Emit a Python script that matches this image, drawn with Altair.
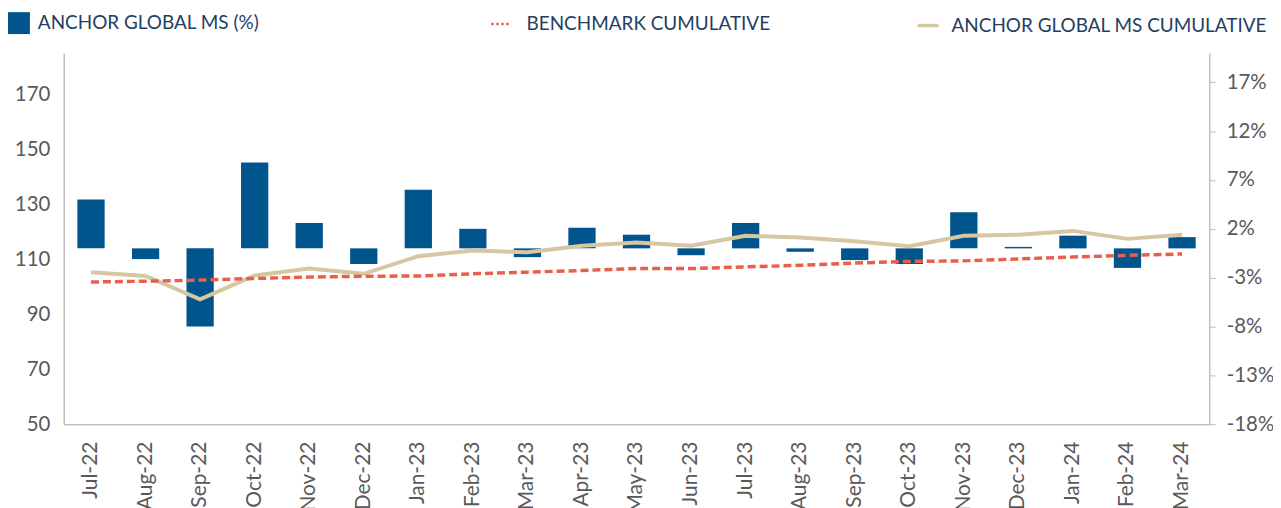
import altair as alt
import pandas as pd

months = ["Jul-22", "Aug-22", "Sep-22", "Oct-22", "Nov-22", "Dec-22", "Jan-23",
          "Feb-23", "Mar-23", "Apr-23", "May-23", "Jun-23", "Jul-23", "Aug-23",
          "Sep-23", "Oct-23", "Nov-23", "Dec-23", "Jan-24", "Feb-24", "Mar-24"]
monthly_pct = [5.0, -1.1, -8.0, 8.8, 2.6, -1.6, 6.0, 2.0, -0.9, 2.1, 1.4, -0.7,
               2.6, -0.35, -1.2, -1.6, 3.7, 0.15, 1.3, -2.0, 1.15]
anchor_cum = [105.3, 103.9, 95.4, 104.1, 106.6, 104.7, 111.1, 113.2, 112.5, 114.9,
              116.1, 114.9, 118.5, 117.9, 116.5, 114.7, 118.5, 118.9, 120.3, 117.4, 118.9]
bench_cum = [101.7, 102.0, 102.4, 103.0, 103.5, 103.8, 103.9, 104.7, 105.3, 105.9,
             106.6, 106.6, 107.2, 107.8, 108.6, 109.2, 109.4, 110.1, 110.8, 111.4, 111.9]

left_ticks = [50, 70, 90, 110, 130, 150, 170]
right_ticks = [-18, -13, -8, -3, 2, 7, 12, 17]

S_BAR = "ANCHOR GLOBAL MS (%)"
S_BENCH = "BENCHMARK CUMULATIVE"
S_ANCHOR = "ANCHOR GLOBAL MS CUMULATIVE"

BAR_C = "#00558C"
BENCH_C = "#E8604A"
ANCHOR_C = "#D6C7A2"
TXT = "#595959"
LEG_TXT = "#24405F"
AX = "#BFBFBF"
FONT = "Lato"

df = pd.DataFrame({
    "month": months,
    "monthly": monthly_pct,
    "anchor": anchor_cum,
    "bench": bench_cum,
    "s_bar": S_BAR,
    "s_bench": S_BENCH,
    "s_anchor": S_ANCHOR,
})

x_axis = alt.Axis(title=None, labelAngle=-90, labelFont=FONT, labelFontSize=21,
                  labelColor=TXT, ticks=False, domainColor=AX, domainWidth=1.5,
                  labelPadding=17)
x_scale = alt.Scale(paddingInner=0.5, paddingOuter=0.25)

left_axis = alt.Axis(title=None, orient="left", values=left_ticks, labelFont=FONT,
                     labelFontSize=20.5, labelColor=TXT, ticks=False, domainColor=AX,
                     domainWidth=1.5, labelPadding=14, grid=False)
left_scale = alt.Scale(domain=[50, 185], nice=False, zero=False)

leg_common = dict(orient="none", title=None, labelFont=FONT, labelFontSize=19,
                  labelColor=LEG_TXT, padding=0, labelLimit=500)

bars = alt.Chart(df).mark_bar(color=BAR_C).encode(
    x=alt.X("month:N", sort=months, scale=x_scale, axis=x_axis),
    y=alt.Y("monthly:Q", scale=alt.Scale(domain=[-18, 20], nice=False, zero=True),
            axis=alt.Axis(title=None, orient="right", values=right_ticks,
                          labelExpr="datum.value + '%'", labelFont=FONT, labelFontSize=20.5,
                          labelColor=TXT, tickColor=AX, tickSize=6, domainColor=AX,
                          domainWidth=1.5, labelPadding=11, grid=False)),
    color=alt.Color("s_bar:N", scale=alt.Scale(domain=[S_BAR], range=[BAR_C]),
                    legend=alt.Legend(legendX=-56, legendY=-41, symbolType="square",
                                      symbolSize=484, symbolStrokeWidth=0, labelOffset=8,
                                      **leg_common)),
)

bench = alt.Chart(df).mark_line(strokeWidth=3.5, strokeDash=[8, 4]).encode(
    x=alt.X("month:N", sort=months, scale=x_scale, axis=x_axis),
    y=alt.Y("bench:Q", scale=left_scale, axis=left_axis),
    color=alt.Color("s_bench:N", scale=alt.Scale(domain=[S_BENCH], range=[BENCH_C]),
                    legend=alt.Legend(legendX=428, legendY=-40, symbolType="stroke",
                                      symbolSize=361, symbolStrokeWidth=2.5,
                                      symbolDash=[2.5, 2.5], labelOffset=15, **leg_common)),
)

anchor = alt.Chart(df).mark_line(strokeWidth=4).encode(
    x=alt.X("month:N", sort=months, scale=x_scale, axis=x_axis),
    y=alt.Y("anchor:Q", scale=left_scale, axis=left_axis),
    color=alt.Color("s_anchor:N", scale=alt.Scale(domain=[S_ANCHOR], range=[ANCHOR_C]),
                    legend=alt.Legend(legendX=856, legendY=-40, symbolType="stroke",
                                      symbolSize=441, symbolStrokeWidth=3.5,
                                      labelOffset=11, **leg_common)),
)

lines = alt.layer(anchor, bench).resolve_scale(color="independent")

chart = alt.layer(bars, lines).resolve_scale(
    y="independent", color="independent"
).properties(
    width=1151, height=373,
    autosize=alt.AutoSizeParams(type="none"),
    padding={"left": 56, "top": 44, "right": 64, "bottom": 83},
    background="white",
).configure_view(stroke=None)

chart.save("out.html", embed_options={"renderer": "svg", "actions": False})
